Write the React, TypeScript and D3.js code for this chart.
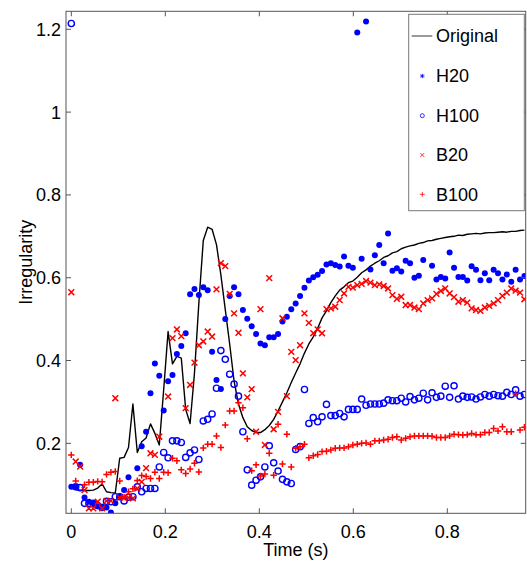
import React from "react";
import * as d3 from "d3";

// frame hop (s); sample i is at time i * DT
const DT = 0.00936;

const originalValues: (number | null)[] = [
  null, 0.088, 0.087, 0.086, 0.086, 0.087, 0.092, 0.102, 0.083, 0.081,
  0.080, 0.164, 0.166, 0.19, 0.295, 0.178, 0.204, 0.213, 0.247, 0.224,
  0.196, 0.33, 0.47, 0.392, 0.41, 0.406, 0.282, 0.248, 0.37, 0.54,
  0.69, 0.722, 0.717, 0.68, 0.607, 0.523, 0.44, 0.35, 0.295, 0.262,
  0.24, 0.231, 0.226, 0.226, 0.233, 0.243, 0.258, 0.278, 0.3, 0.322,
  0.347, 0.37, 0.392, 0.418, 0.44, 0.457, 0.478, 0.503, 0.52, 0.54,
  0.556, 0.57, 0.578, 0.588, 0.592, 0.601, 0.612, 0.619, 0.628, 0.635,
  0.641, 0.649, 0.653, 0.66, 0.663, 0.67, 0.674, 0.677, 0.679, 0.683,
  0.685, 0.689, 0.69, 0.693, 0.695, 0.697, 0.699, 0.7, 0.703, 0.702,
  0.705, 0.706, 0.707, 0.706, 0.708, 0.709, 0.709, 0.71, 0.711, 0.71,
  0.712, 0.712, 0.714, 0.715,
];

const h20Values: (number | null)[] = [
  0.095, 0.095, 0.148, 0.069, 0.059, 0.055, 0.048, 0.047, 0.045, 0.033,
  0.055, 0.072, 0.087, 0.118, null, 0.14, 0.193, 0.228, 0.321, 0.393,
  0.363, 0.279, 0.35, 0.365, 0.416, 0.435, 0.466, 0.56, 0.573, 0.558,
  0.577, 0.57, 0.421, 0.353, 0.331, 0.5, 0.556, 0.577, 0.56, 0.522,
  0.501, 0.483, 0.464, 0.441, 0.437, 0.456, 0.456, 0.464, 0.494, 0.506,
  0.524, 0.538, 0.556, 0.576, 0.593, 0.601, 0.607, 0.616, 0.632, 0.635,
  0.631, 0.627, 0.651, 0.629, 0.624, 1.192, 0.646, 1.219, 0.62, 0.654,
  0.679, 0.635, 0.707, 0.617, 0.623, 0.615, 0.641, 0.635, 0.6, 0.605,
  0.643, null, 0.629, 0.596, 0.602, 0.598, 0.661, 0.624, 0.602, 0.602,
  0.593, 0.628, 0.619, 0.594, 0.611, 0.594, 0.619, 0.611, 0.596, 0.608,
  0.59, 0.619, 0.596, 0.604,
];

const h100Values: (number | null)[] = [
  1.214, 0.095, 0.093, 0.055, 0.055, 0.055, 0.05, 0.045, 0.06, 0.059,
  0.071, 0.071, 0.061, 0.07, 0.071, 0.095, 0.083, 0.091, 0.091, 0.091,
  0.143, 0.178, 0.165, 0.206, 0.206, 0.202, 0.166, 0.177, 0.184, 0.161,
  0.254, 0.258, 0.271, 0.333, 0.424, 0.403, 0.367, 0.343, 0.314, 0.228,
  0.136, 0.099, 0.111, 0.119, 0.143, 0.194, 0.153, 0.133, 0.113, 0.107,
  0.103, 0.185, 0.192, 0.33, 0.248, 0.262, 0.252, 0.264, 0.294, 0.267,
  0.267, 0.272, 0.264, 0.282, 0.282, 0.282, 0.307, 0.292, 0.295, 0.295,
  0.295, 0.297, 0.305, 0.303, 0.303, 0.309, 0.3, 0.313, 0.305, 0.309,
  0.321, 0.305, 0.322, 0.311, 0.314, 0.338, 0.311, 0.339, 0.307, 0.314,
  0.311, 0.312, 0.307, 0.312, 0.318, 0.314, 0.318, 0.315, 0.314, 0.323,
  0.318, 0.329, 0.314, 0.318,
];

const b20Values: (number | null)[] = [
  0.565, 0.156, 0.144, 0.087, 0.043, 0.043, 0.059, 0.043, 0.061, 0.061,
  0.309, 0.069, 0.069, 0.069, 0.067, 0.091, 0.107, 0.14, 0.176, 0.172,
  0.216, null, 0.313, 0.454, 0.475, 0.459, 0.285, 0.341, 0.395, 0.437,
  0.446, 0.47, 0.458, 0.572, 0.635, 0.628, 0.561, 0.514, 0.467, 0.369,
  0.311, 0.331, 0.228, 0.524, 0.196, 0.599, 0.234, 0.276, 0.502, 0.314,
  0.421, 0.401, 0.437, 0.514, 0.491, 0.466, 0.475, 0.466, 0.524, 0.526,
  0.53, 0.546, 0.562, 0.578, 0.576, 0.582, 0.585, 0.592, 0.588, 0.582,
  0.584, 0.58, 0.574, 0.558, 0.549, 0.554, 0.534, 0.534, 0.528, 0.524,
  0.538, 0.546, 0.55, 0.561, 0.568, 0.574, 0.562, 0.553, 0.542, 0.546,
  0.54, 0.526, 0.522, 0.52, 0.528, 0.532, 0.538, 0.546, 0.556, 0.564,
  0.574, 0.569, 0.564, 0.548,
];

const b100Values: (number | null)[] = [
  0.172, 0.109, null, 0.1, 0.106, 0.106, 0.108, 0.107, 0.125, 0.13,
  0.132, 0.109, 0.07, 0.083, 0.09, 0.11, 0.122, 0.12, 0.115, 0.13,
  0.115, 0.13, 0.129, 0.164, 0.158, 0.136, 0.127, 0.138, 0.152, 0.131,
  0.189, 0.198, 0.198, 0.218, 0.19, 0.244, 0.278, 0.278, 0.298, 0.286,
  0.211, 0.134, 0.148, 0.121, 0.126, 0.176, 0.123, 0.246, 0.15, 0.222,
  0.143, 0.188, 0.192, 0.198, 0.165, 0.17, 0.173, 0.18, 0.181, 0.184,
  0.188, 0.189, 0.189, 0.192, 0.196, 0.198, 0.2, 0.201, 0.198, 0.206,
  0.206, 0.208, 0.21, 0.214, 0.216, 0.208, 0.212, 0.216, 0.218, 0.218,
  0.218, 0.218, 0.217, 0.214, 0.214, 0.214, 0.218, 0.222, 0.221, 0.22,
  0.221, 0.224, 0.221, 0.221, 0.226, 0.226, 0.236, 0.23, 0.24, 0.228,
  0.228, 0.32, 0.232, 0.239,
];

const xTicks = [0, 0.2, 0.4, 0.6, 0.8];
const yTicks = [0.2, 0.4, 0.6, 0.8, 1, 1.2];
const legendLabels = ["Original", "H20", "H100", "B20", "B100"];
const xDomain = [-0.0113, 0.9668];
const yDomain = [0.031, 1.2435];

const W = 527;
const H = 563;
const L = 66, T = 11.3, R = 525.7, B = 513.3;
const FONT = "'Liberation Sans', Arial, Helvetica, sans-serif";
const BLUE = "#0000ff";
const RED = "#ff0000";
const AXIS = "#555";

type Pt = { t: number; v: number };
const toPts = (vals: (number | null)[]): Pt[] =>
  vals
    .map((v, i) => (v == null ? null : { t: i * DT, v }))
    .filter((d): d is Pt => d != null);

export default function App() {
  const x = d3.scaleLinear().domain(xDomain).range([L, R]);
  const y = d3.scaleLinear().domain(yDomain).range([B, T]);

  const linePath = d3
    .line<number | null>()
    .defined((d) => d != null)
    .x((_, i) => x(i * DT))
    .y((d) => y(d as number))(originalValues);

  const h20 = toPts(h20Values);
  const h100 = toPts(h100Values);
  const b20 = toPts(b20Values);
  const b100 = toPts(b100Values);

  const cross = (cx: number, cy: number, s: number) =>
    `M${cx - s},${cy - s}L${cx + s},${cy + s}M${cx - s},${cy + s}L${cx + s},${cy - s}`;
  const plus = (cx: number, cy: number, s: number) =>
    `M${cx - s},${cy}L${cx + s},${cy}M${cx},${cy - s}L${cx},${cy + s}`;
  const star = (cx: number, cy: number, s: number) =>
    plus(cx, cy, s) + cross(cx, cy, s * 0.72);

  const tickLen = 5;
  const legX = 408.7, legY = 14.3, legW = 115.6, legH = 196.4;
  const legRows = [36, 76, 115.7, 155, 194.3];
  const mx = 422.3;

  return (
    <svg
      width={W}
      height={H}
      style={{ position: "absolute", left: 0, top: 0, background: "#fff" }}
      fontFamily={FONT}
    >
      <defs>
        <clipPath id="plotclip">
          <rect x={L} y={T} width={R - L} height={B - T} />
        </clipPath>
      </defs>
      <rect x={0} y={0} width={W} height={H} fill="#fff" />

      <g clipPath="url(#plotclip)">
        <path d={linePath || ""} fill="none" stroke="#000" strokeWidth={1.4} strokeLinejoin="round" />
        {h20.map((d, i) => (
          <circle key={"a" + i} cx={x(d.t)} cy={y(d.v)} r={3} fill={BLUE} />
        ))}
        {h100.map((d, i) => (
          <circle key={"b" + i} cx={x(d.t)} cy={y(d.v)} r={3.1} fill="none" stroke={BLUE} strokeWidth={1.4} />
        ))}
        {b20.map((d, i) => (
          <path key={"c" + i} d={cross(x(d.t), y(d.v), 2.9)} stroke={RED} strokeWidth={1.5} fill="none" />
        ))}
        {b100.map((d, i) => (
          <path key={"d" + i} d={plus(x(d.t), y(d.v), 3.2)} stroke={RED} strokeWidth={1.5} fill="none" />
        ))}
      </g>

      {/* axes box */}
      <rect x={L} y={T} width={R - L} height={B - T} fill="none" stroke={AXIS} strokeWidth={1} />
      {xTicks.map((t) => (
        <g key={"xt" + t}>
          <line x1={x(t)} x2={x(t)} y1={B} y2={B - tickLen} stroke={AXIS} />
          <line x1={x(t)} x2={x(t)} y1={T} y2={T + tickLen} stroke={AXIS} />
          <text x={x(t)} y={538} textAnchor="middle" fontSize={18} fill="#000">
            {String(t)}
          </text>
        </g>
      ))}
      {yTicks.map((t) => (
        <g key={"yt" + t}>
          <line x1={L} x2={L + tickLen} y1={y(t)} y2={y(t)} stroke={AXIS} />
          <line x1={R} x2={R - tickLen} y1={y(t)} y2={y(t)} stroke={AXIS} />
          <text x={61} y={y(t)} dy="0.36em" textAnchor="end" fontSize={18} fill="#000">
            {String(t)}
          </text>
        </g>
      ))}

      <text x={(L + R) / 2} y={556} textAnchor="middle" fontSize={18} fill="#000">
        Time (s)
      </text>
      <text
        transform={`translate(32, ${(T + B) / 2}) rotate(-90)`}
        textAnchor="middle"
        fontSize={18}
        fill="#000"
      >
        Irregularity
      </text>

      {/* legend */}
      <rect x={legX} y={legY} width={legW} height={legH} fill="#fff" stroke="#777" strokeWidth={1} />
      <line x1={411.7} x2={432.3} y1={legRows[0]} y2={legRows[0]} stroke="#000" strokeWidth={0.8} />
      <path d={star(mx, legRows[1], 2.2)} stroke={BLUE} strokeWidth={0.8} fill="none" />
      <circle cx={mx} cy={legRows[2]} r={2} fill="none" stroke={BLUE} strokeWidth={0.8} />
      <path d={cross(mx, legRows[3], 2)} stroke={RED} strokeWidth={0.8} fill="none" />
      <path d={plus(mx, legRows[4], 2.4)} stroke={RED} strokeWidth={0.8} fill="none" />
      {legendLabels.map((lab, i) => (
        <text key={lab} x={436} y={legRows[i]} dy="0.36em" fontSize={18} fill="#000">
          {lab}
        </text>
      ))}
    </svg>
  );
}
